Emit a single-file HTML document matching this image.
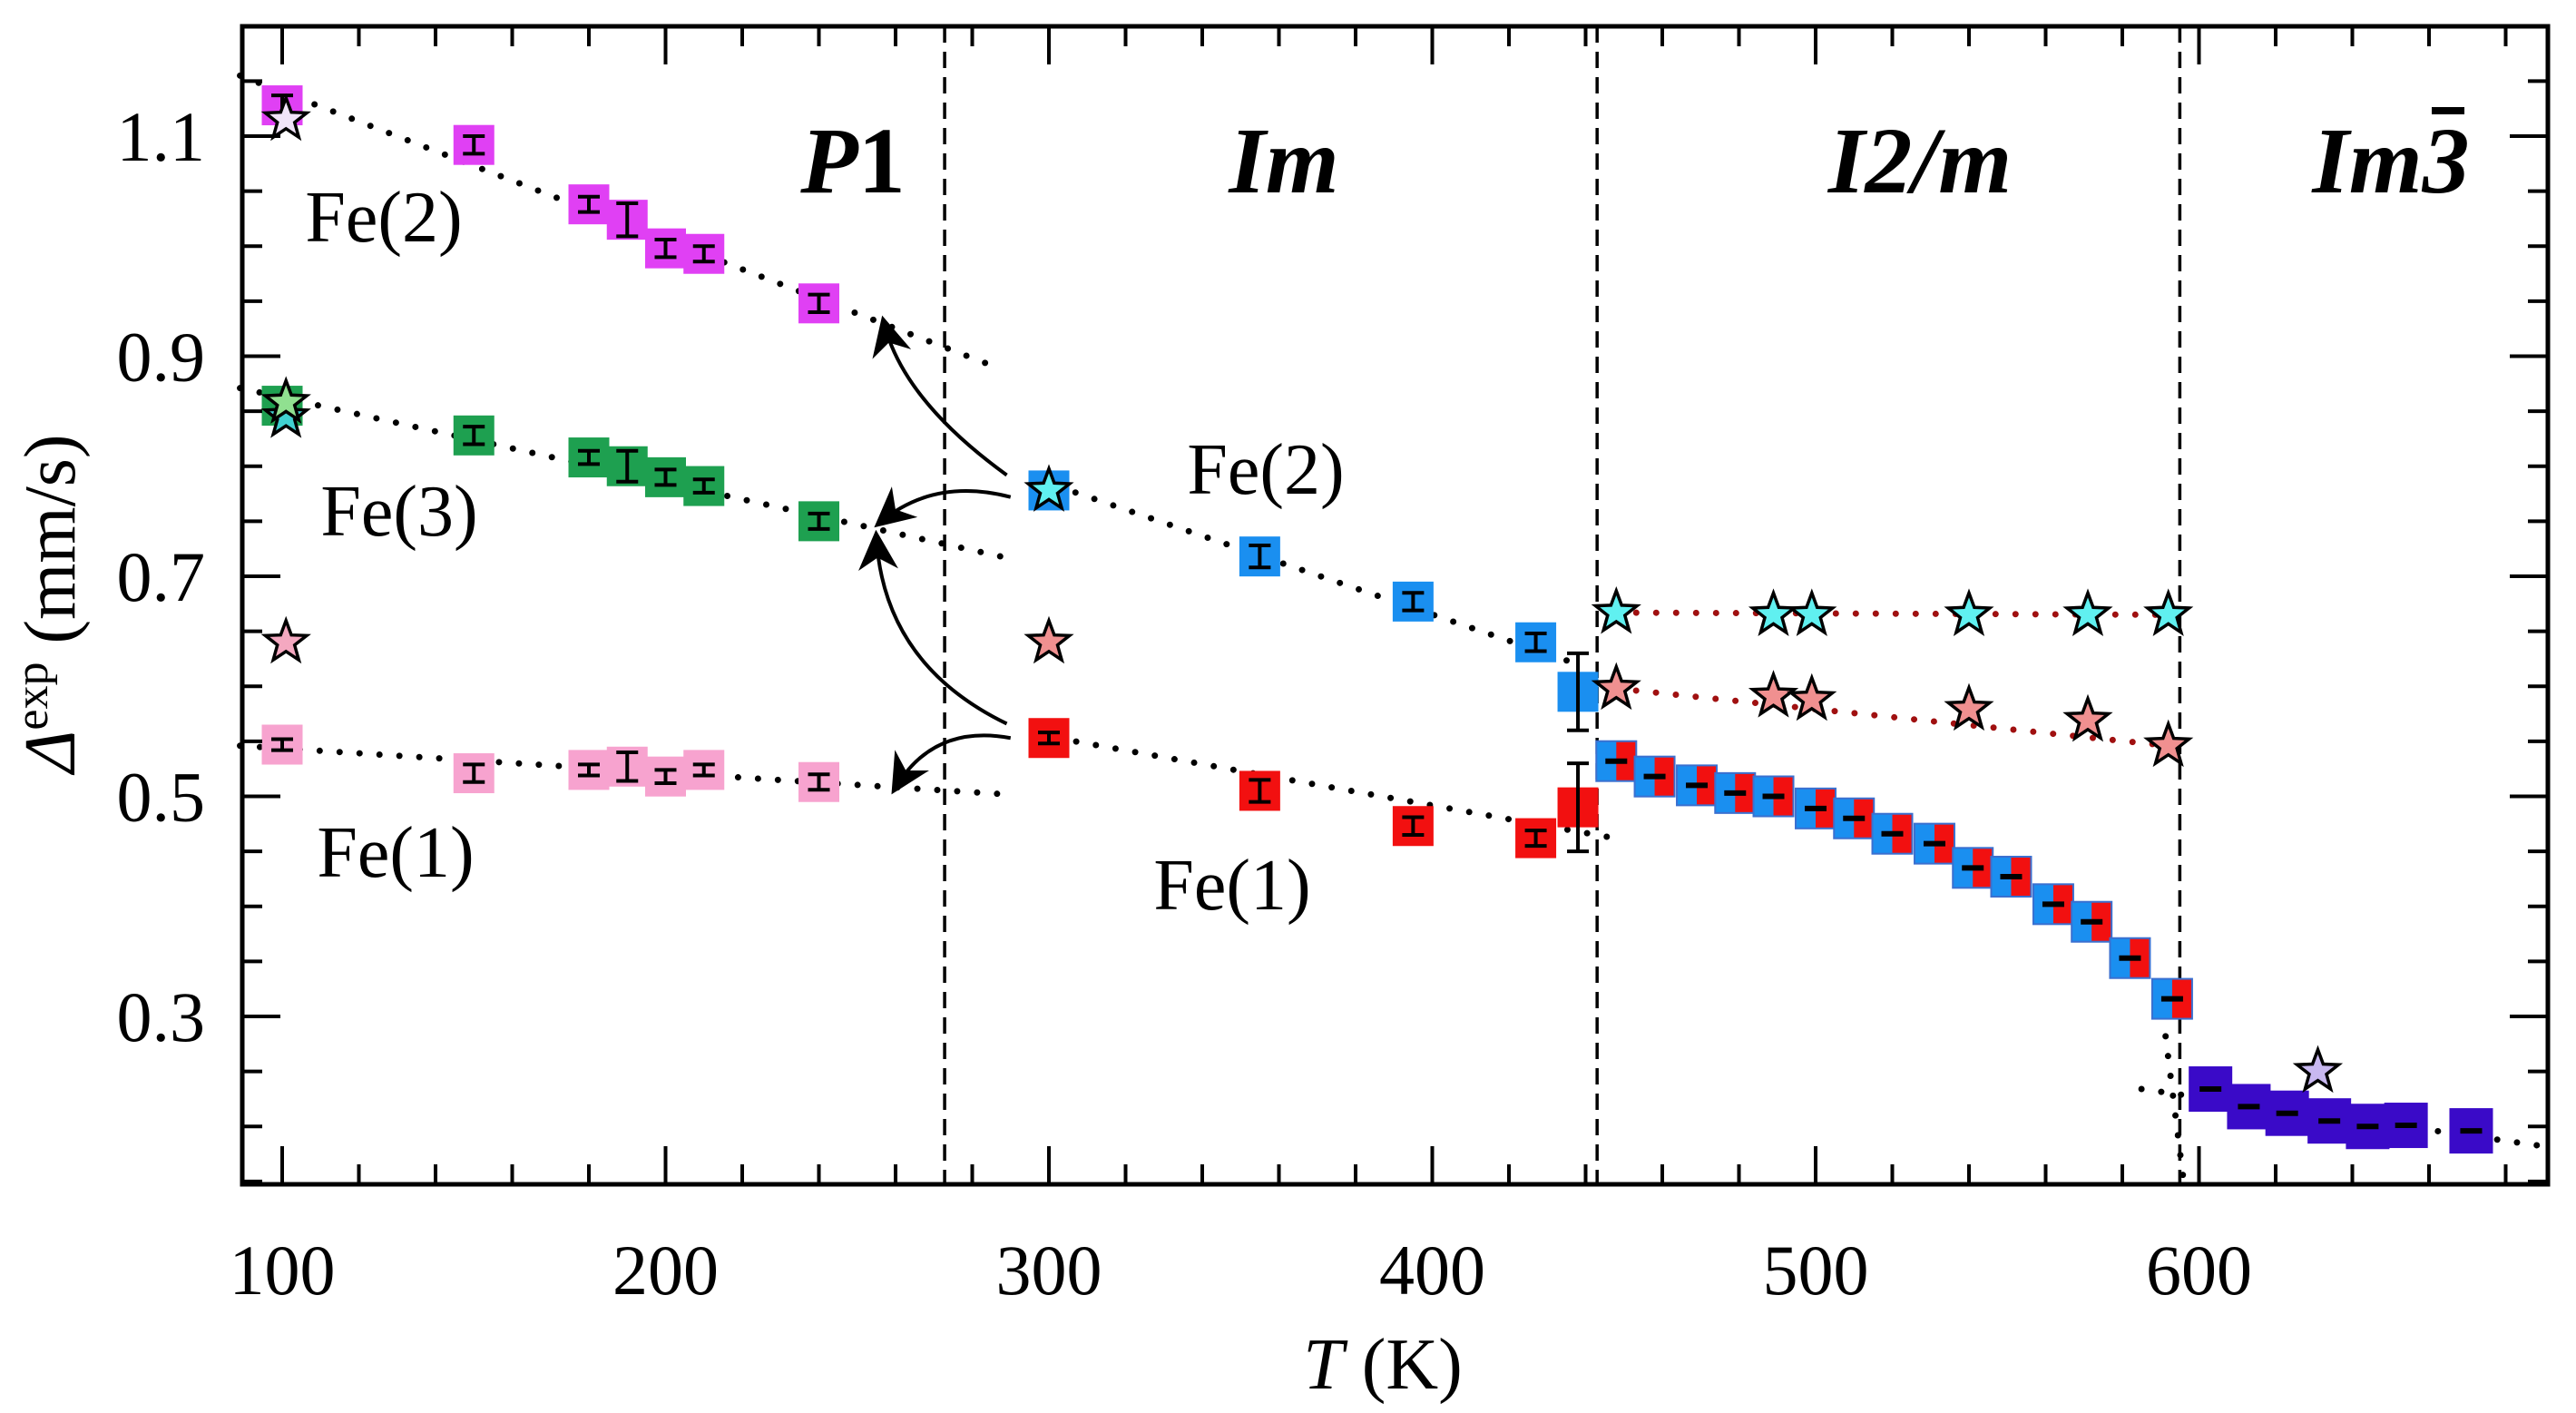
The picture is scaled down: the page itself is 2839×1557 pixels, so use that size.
<!DOCTYPE html>
<html><head><meta charset="utf-8"><style>
html,body{margin:0;padding:0;background:#fff;}
svg{display:block;}
text{font-family:"Liberation Serif","DejaVu Serif",serif;fill:#000;}
</style></head><body>
<svg id="chart" width="2839" height="1557" viewBox="0 0 2839 1557" xmlns="http://www.w3.org/2000/svg"></svg>
<script>
// ---- data ----
const p1T = [100,150,180,190,200,210,240];
const p1Fe2 = [1.128,1.092,1.038,1.024,0.998,0.993,0.948];
const p1Fe2Err = [0.009,0.008,0.007,0.015,0.008,0.007,0.008];
const p1Fe3 = [0.855,0.828,0.808,0.800,0.790,0.782,0.750];
const p1Fe3Err = [0.006,0.008,0.006,0.014,0.007,0.006,0.007];
const p1Fe1 = [0.547,0.521,0.524,0.527,0.518,0.524,0.513];
const p1Fe1Err = [0.005,0.008,0.005,0.013,0.006,0.005,0.007];
const imT = [300,355,395,427,438];
const imFe2 = [0.778,0.718,0.677,0.640,0.595];
const imFe2Err = [0.006,0.010,0.008,0.008,0.035];
const imFe1 = [0.553,0.505,0.473,0.462,0.490];
const imFe1Err = [0.005,0.010,0.008,0.007,0.040];
const i2mT = [448,458,469,479,489,500,510,520,531,541,551,562,572,582,593];
const i2mVal = [0.532,0.518,0.510,0.503,0.500,0.489,0.480,0.466,0.457,0.435,0.427,0.402,0.386,0.353,0.316];
const cubT = [603,613,623,634,644,654,671];
const cubVal = [0.234,0.218,0.212,0.205,0.200,0.201,0.196];
const starCyanT = [448,489,499,540,571,592];
const starCyanV = [0.667,0.665,0.665,0.665,0.665,0.665];
const starPinkT = [448,489,499,540,571,592];
const starPinkV = [0.598,0.591,0.588,0.579,0.569,0.546];
const xTicks = [100,200,300,400,500,600];
const yTicks = [0.3,0.5,0.7,0.9,1.1];
const yTickLabels = ["0.3","0.5","0.7","0.9","1.1"];
const phaseBounds = [272.8,443,595];

// ---- axes ----
const L=267,R=2808,Tp=29,B=1305;
function X(t){return 311+(t-100)*4.225;}
function Y(v){return 1120-(v-0.3)*1212.5;}
const NS="http://www.w3.org/2000/svg";
const svg=document.getElementById('chart');
function el(tag,attrs,parent){const e=document.createElementNS(NS,tag);for(const k in attrs)e.setAttribute(k,attrs[k]);(parent||svg).appendChild(e);return e;}

phaseBounds.forEach(b=>{
  const d=el('line',{x1:X(b),x2:X(b),y1:Tp,y2:B,stroke:'#000','stroke-width':3.5,'stroke-dasharray':'18 10'});
  
  
});

function dotted(t1,v1,t2,v2,color,name){
  const l=el('line',{x1:X(t1),y1:Y(v1),x2:X(t2),y2:Y(v2),stroke:color,'stroke-width':7,'stroke-linecap':'round','stroke-dasharray':'0 22'});
  
  
}
dotted(89,1.155,287,0.889,'#000','trend-fe2-p1');
dotted(89,0.871,290,0.716,'#000','trend-fe3-p1');
dotted(89,0.546,288,0.502,'#000','trend-fe1-p1');
dotted(302,0.782,438,0.620,'#000','trend-fe2-im');
dotted(302,0.553,446,0.463,'#000','trend-fe1-im');
dotted(448,0.667,592,0.665,'#a01010','trend-cyan-stars');
dotted(448,0.598,592,0.546,'#a01010','trend-pink-stars');
dotted(590,0.318,596,0.150,'#000','trend-transition');
dotted(585,0.234,690,0.182,'#000','trend-cubic');

const defs=el('defs',{});
const mk=el('marker',{id:'ah',refX:8,refY:5,orient:'auto',markerUnits:'userSpaceOnUse',viewBox:'0 0 10 10'},defs);
mk.setAttribute('markerWidth',44);mk.setAttribute('markerHeight',44);
el('path',{d:'M0,0 L10,5 L0,10 L3,5 Z',fill:'#000'},mk);
function arrow(t1,v1,tc,vc,t2,v2,name){
  const p=el('path',{d:`M${X(t1)},${Y(v1)} Q${X(tc)},${Y(vc)} ${X(t2)},${Y(v2)}`,fill:'none',stroke:'#000','stroke-width':4,'marker-end':'url(#ah)'});
  
  
}
arrow(289,0.792,262,0.86,257,0.93,'arrow-to-fe2');
arrow(290,0.772,270,0.79,256,0.749,'arrow-to-fe3-a');
arrow(289,0.566,257,0.62,255,0.735,'arrow-to-fe3-b');
arrow(290,0.553,270,0.566,260,0.508,'arrow-to-fe1');

function sq(t,v,w,h,fill,err,name){
  const g=el('g',{});
  
  
  el('rect',{x:X(t)-w/2,y:Y(v)-h/2,width:w,height:h,fill:fill},g);
  if(err!=null){
    const x=X(t),y1=Y(v+err),y2=Y(v-err);
    el('line',{x1:x,x2:x,y1:y1,y2:y2,stroke:'#000','stroke-width':4},g);
    el('line',{x1:x-12,x2:x+12,y1:y1,y2:y1,stroke:'#000','stroke-width':4},g);
    el('line',{x1:x-12,x2:x+12,y1:y2,y2:y2,stroke:'#000','stroke-width':4},g);
  }
  return g;
}
p1T.forEach((t,i)=>sq(t,p1Fe2[i],45,44,'#e040f4',p1Fe2Err[i],'fe2-p1-point'));
p1T.forEach((t,i)=>sq(t,p1Fe3[i],45,44,'#1ea050',p1Fe3Err[i],'fe3-p1-point'));
p1T.forEach((t,i)=>sq(t,p1Fe1[i],45,44,'#f7a3cf',p1Fe1Err[i],'fe1-p1-point'));
imT.forEach((t,i)=>sq(t,imFe2[i],45,44,'#1a8ff0',imFe2Err[i],'fe2-im-point'));
imT.forEach((t,i)=>sq(t,imFe1[i],45,44,'#f21010',imFe1Err[i],'fe1-im-point'));
i2mT.forEach((t,i)=>{
  const x=X(t),y=Y(i2mVal[i]);
  const g=el('g',{});
  
  
  el('rect',{x:x-22,y:y-22,width:44,height:44,fill:'#1a8ff0',stroke:'#3a70d0','stroke-width':2},g);
  el('rect',{x:x,y:y-21,width:21,height:42,fill:'#f21010'},g);
  el('line',{x1:x-12,x2:x+12,y1:y,y2:y,stroke:'#000','stroke-width':6},g);
});
cubT.forEach((t,i)=>{
  const x=X(t),y=Y(cubVal[i]);
  const g=el('g',{});
  
  
  el('rect',{x:x-24,y:y-25,width:48,height:50,fill:'#3a0ac8'},g);
  el('line',{x1:x-12,x2:x+12,y1:y,y2:y,stroke:'#000','stroke-width':6},g);
});

function star(t,v,fill,name){
  const cx=X(t),cy=Y(v),r1=24,r2=10;let pts=[];
  for(let k=0;k<10;k++){const a=-Math.PI/2+k*Math.PI/5,r=k%2?r2:r1;pts.push((cx+r*Math.cos(a)).toFixed(1)+','+(cy+r*Math.sin(a)).toFixed(1));}
  const s=el('polygon',{points:pts.join(' '),fill:fill,stroke:'#000','stroke-width':3.5,'stroke-linejoin':'miter'});
  
  
}
star(101,1.115,'#f0e4f8','star-fe2-100');
star(101,0.845,'#40d0d0','star-cyan-100');
star(101,0.858,'#90e090','star-fe3-100');
star(101,0.640,'#f4a8c0','star-pink-100');
star(300,0.778,'#60f0f0','star-cyan-300');
star(300,0.640,'#f09090','star-pink-300');
starCyanT.forEach((t,i)=>star(t,starCyanV[i],'#60f0f0','star-cyan'));
starPinkT.forEach((t,i)=>star(t,starPinkV[i],'#f09090','star-pink'));
star(631,0.250,'#c8b8f0','star-cubic');

const fr=el('rect',{x:L,y:Tp,width:R-L,height:B-Tp,fill:'none',stroke:'#000','stroke-width':5});


for(let t=100;t<=680;t+=20){
  const major=t%100===0,len=major?42:22,x=X(t);
  el('line',{x1:x,x2:x,y1:B,y2:B-len,stroke:'#000','stroke-width':4});
  el('line',{x1:x,x2:x,y1:Tp,y2:Tp+len,stroke:'#000','stroke-width':4});
}
for(let k=0;k<=20;k++){
  const v=0.15+k*0.05;const y=Y(v);if(y<Tp+2||y>B-2)continue;
  const major=Math.abs(((v-0.1)/0.2)-Math.round((v-0.1)/0.2))<1e-6 && Math.round(v*10)%2===1;
  const len=major?42:22;
  el('line',{x1:L,x2:L+len,y1:y,y2:y,stroke:'#000','stroke-width':4});
  el('line',{x1:R,x2:R-len,y1:y,y2:y,stroke:'#000','stroke-width':4});
}
xTicks.forEach(t=>{
  const tx=el('text',{x:X(t),y:1426,'font-size':78,'text-anchor':'middle'});tx.textContent=t;
  
  
});
yTicks.forEach((v,i)=>{
  const tx=el('text',{x:226,y:Y(v)+27,'font-size':78,'text-anchor':'end'});tx.textContent=yTickLabels[i];
  
  
});
</script>
<svg style="position:absolute;left:0;top:0" width="2839" height="1557" xmlns="http://www.w3.org/2000/svg">
<text x="1524" y="1530" font-size="80" text-anchor="middle"><tspan font-style="italic">T</tspan> (K)</text>
<text transform="translate(82,665) rotate(-90)" font-size="80" text-anchor="middle"><tspan font-style="italic">Δ</tspan><tspan font-size="52" dy="-30">exp</tspan><tspan dy="30"> (mm/s)</tspan></text>
<text x="940" y="212" font-size="104" text-anchor="middle" font-weight="bold"><tspan font-style="italic">P</tspan>1</text>
<text x="1415" y="212" font-size="104" text-anchor="middle" font-weight="bold" font-style="italic">Im</text>
<text x="2116" y="212" font-size="104" text-anchor="middle" font-weight="bold" font-style="italic">I2/m</text>
<text x="2635" y="212" font-size="104" text-anchor="middle" font-weight="bold" font-style="italic">Im3</text>
<line x1="2680" y1="122" x2="2716" y2="122" stroke="#000" stroke-width="8"/>
<text x="423" y="266" font-size="80" text-anchor="middle">Fe(2)</text>
<text x="440" y="590" font-size="80" text-anchor="middle">Fe(3)</text>
<text x="436" y="966" font-size="80" text-anchor="middle">Fe(1)</text>
<text x="1395" y="544" font-size="80" text-anchor="middle">Fe(2)</text>
<text x="1358" y="1002" font-size="80" text-anchor="middle">Fe(1)</text>
</svg>
</body></html>
